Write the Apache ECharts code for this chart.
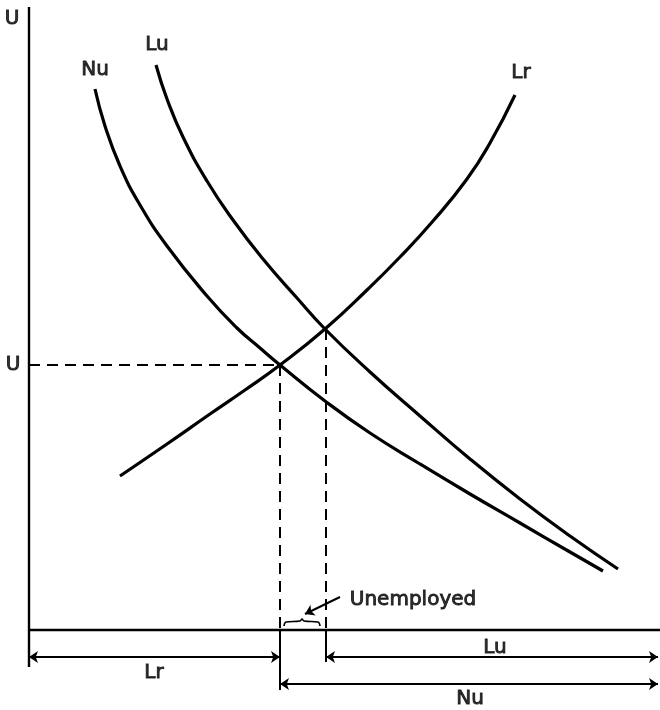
<!DOCTYPE html>
<html>
<head>
<meta charset="utf-8">
<script src="https://cdn.jsdelivr.net/npm/echarts@6/dist/echarts.min.js"></script>
<style>
  html, body { margin: 0; padding: 0; background: #fff; }
  #chart { width: 660px; height: 710px; }
</style>
</head>
<body>
<div id="chart"></div>
<script>
// curves in diagram units (x = labour, y = U)
const nuCurve = [[66, 541], [76, 504], [91, 464], [111, 425], [138, 384], [178, 334],
    [208, 302], [231, 282], [251, 265], [296, 229], [341, 197], [391, 166], [441, 136],
    [491, 107], [541, 78], [574, 59]];
const luCurve = [[127, 565], [138, 531], [154, 493], [178, 449], [204, 410], [234, 371],
    [268, 332], [296, 301], [341, 258], [391, 214], [441, 171], [491, 131], [541, 94],
    [589, 61]];
const lrCurve = [[91, 154], [138, 186], [181, 216], [216, 240], [251, 265], [296, 301],
    [338, 340], [371, 373], [404, 409], [438, 451], [461, 487], [486, 535]];

// equilibrium points
const eqEmployed = [251, 265];   // Nu = Lr
const eqLabour = [297, 301];     // Lu = Lr

// axes and measurement bars
const axisTop = 623, axisRight = 631;
const barLr = -27, barLu = -27, barNu = -54;
const arrowEnd = 629;

// brace under the unemployed gap
const brace = [[255, 4], [257, 8], [271, 9], [273, 11], [275, 9], [289, 8], [291, 4]];
const pointer = [[311, 33], [276, 16]];

const labels = [
    [-17, 611, 'U'], [-16, 265, 'U'],
    [66, 560, 'Nu'], [128, 585, 'Lu'], [492, 557, 'Lr'],
    [125, -43, 'Lr'], [466, -18, 'Lu'], [441, -69, 'Nu'],
    [384, 30, 'Unemployed']
];

const chart = echarts.init(document.getElementById('chart'));

const solid = (data, width, smooth) => ({
    type: 'line', data: data, showSymbol: false, silent: true,
    smooth: smooth || false,
    lineStyle: { color: '#000', width: width }
});
const dashed = (data) => ({
    type: 'line', data: data, showSymbol: false, silent: true,
    lineStyle: { color: '#000', width: 2, type: [11, 7] }
});

chart.setOption({
    animation: false,
    backgroundColor: '#fff',
    grid: { left: 0, right: 0, top: 0, bottom: 0 },
    xAxis: { type: 'value', min: -29, max: 631, show: false },
    yAxis: { type: 'value', min: -80, max: 630, show: false },
    series: [
        solid(nuCurve, 3.2, 0.5),
        solid(luCurve, 3.2, 0.5),
        solid(lrCurve, 3.2, 0.5),
        // axes
        solid([[0, axisTop], [0, -37]], 2.4),
        solid([[0, 0], [axisRight, 0]], 2.4),
        // dashed guides
        dashed([[0, eqEmployed[1]], eqEmployed]),
        dashed([eqEmployed, [eqEmployed[0], 0]]),
        dashed([eqLabour, [eqLabour[0], 0]]),
        // ticks below the axis
        solid([[eqEmployed[0], 0], [eqEmployed[0], -60]], 2),
        solid([[eqLabour[0], 0], [eqLabour[0], -32]], 2),
        solid(brace, 1.6, 0.4),
        {
            type: 'lines', coordinateSystem: 'cartesian2d', silent: true,
            symbol: ['arrow', 'arrow'], symbolSize: 9,
            lineStyle: { color: '#000', width: 2, opacity: 1 },
            data: [
                { coords: [[0, barLr], [eqEmployed[0], barLr]] },
                { coords: [[eqLabour[0], barLu], [arrowEnd, barLu]] },
                { coords: [[eqEmployed[0], barNu], [arrowEnd, barNu]] }
            ]
        },
        {
            type: 'lines', coordinateSystem: 'cartesian2d', silent: true,
            symbol: ['none', 'arrow'], symbolSize: 9,
            lineStyle: { color: '#000', width: 2, opacity: 1 },
            data: [{ coords: pointer }]
        },
        {
            type: 'scatter', symbolSize: 0, silent: true,
            data: labels.map(l => ({ value: [l[0], l[1]], name: l[2] })),
            label: {
                show: true, position: 'inside', formatter: p => p.name,
                color: '#000', fontFamily: 'DejaVu Sans', fontSize: 20,
                textBorderColor: '#000', textBorderWidth: 0.9,
                align: 'center', verticalAlign: 'middle'
            }
        }
    ]
});
</script>
</body>
</html>
